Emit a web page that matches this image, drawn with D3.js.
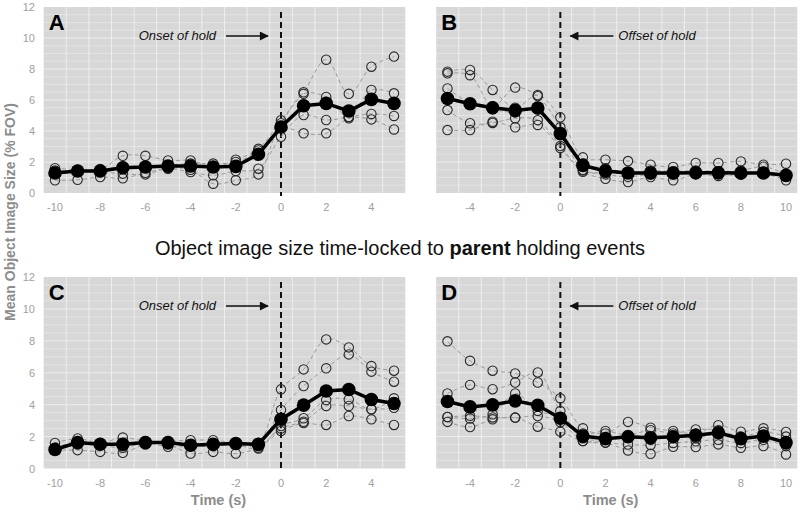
<!DOCTYPE html>
<html>
<head>
<meta charset="utf-8">
<script src="https://cdn.jsdelivr.net/npm/d3@7"></script>
<style>
  body { margin: 0; background: #fff; }
  text { font-family: Arial, "Liberation Sans", sans-serif; }
</style>
</head>
<body>
<div id="chart"></div>
<script>
const width = 800;
const height = 514;

// time points
const onsetTimes = [-10, -9, -8, -7, -6, -5, -4, -3, -2, -1, 0, 1, 2, 3, 4, 5];
const offsetTimes = [-5, -4, -3, -2, -1, 0, 1, 2, 3, 4, 5, 6, 7, 8, 9, 10];
const onsetTicks = [-10, -8, -6, -4, -2, 0, 2, 4];
const offsetTicks = [-4, -2, 0, 2, 4, 6, 8, 10];
const yTicks = [0, 2, 4, 6, 8, 10, 12];

// panel A: child onset
const meanA = [1.29, 1.42, 1.42, 1.63, 1.68, 1.74, 1.74, 1.68, 1.72, 2.5, 4.26, 5.63, 5.78, 5.29, 6.04, 5.78];
const subjectsA = [
    [1.6, 1.5, 1.5, 2.4, 2.4, 2.1, 2.1, 1.7, 2.15, 2.85, 4.7, 6.5, 8.6, 6.4, 8.15, 8.8],
    [1.45, 1.45, 1.55, 1.7, 1.75, 1.8, 1.9, 1.9, 2.0, 2.75, 4.5, 6.4, 6.2, 4.9, 6.65, 6.43],
    [1.3, 1.4, 1.35, 1.25, 1.2, 1.57, 1.35, 1.14, 1.42, 1.57, 3.63, 5.03, 4.71, 4.9, 5.1, 4.97],
    [0.82, 0.85, 1.03, 0.95, 1.3, 1.6, 1.5, 0.6, 0.82, 1.2, 4.2, 3.85, 3.85, 4.82, 4.75, 4.1]
];

// panel B: child offset
const meanB = [6.1, 5.76, 5.5, 5.33, 5.48, 3.83, 1.78, 1.42, 1.29, 1.29, 1.29, 1.31, 1.31, 1.29, 1.29, 1.14];
const subjectsB = [
    [7.83, 7.94, 6.65, 5.5, 6.32, 4.88, 2.3, 2.15, 2.06, 1.83, 1.68, 1.94, 1.94, 2.04, 1.83, 1.89],
    [7.72, 7.6, 5.6, 6.8, 6.25, 4.24, 1.9, 1.6, 1.35, 1.45, 1.4, 1.45, 1.4, 1.45, 1.7, 1.2],
    [6.75, 5.8, 5.4, 5.2, 5.4, 3.8, 1.5, 1.2, 1.05, 1.2, 1.2, 1.25, 1.2, 1.2, 1.3, 1.05],
    [5.35, 4.5, 4.52, 4.82, 4.7, 3.03, 1.45, 1.3, 1.25, 1.3, 1.3, 1.3, 1.25, 1.3, 1.35, 1.1],
    [4.06, 4.06, 4.6, 4.24, 4.39, 2.9, 1.37, 0.92, 0.71, 1.03, 0.82, 1.2, 1.1, 1.2, 1.25, 0.82]
];

// panel C: parent onset
const meanC = [1.19, 1.63, 1.52, 1.52, 1.63, 1.63, 1.46, 1.52, 1.57, 1.52, 3.09, 3.97, 4.86, 4.95, 4.32, 4.07];
const subjectsC = [
    [1.6, 1.88, 1.6, 1.94, 1.7, 1.7, 1.77, 1.77, 1.6, 1.6, 4.96, 6.21, 8.09, 7.59, 6.42, 6.13],
    [1.3, 1.7, 1.5, 1.6, 1.65, 1.6, 1.5, 1.55, 1.6, 1.5, 3.67, 5.17, 6.28, 7.15, 6.07, 5.44],
    [1.15, 1.6, 1.5, 1.4, 1.6, 1.36, 1.4, 1.5, 1.5, 1.25, 2.66, 3.15, 4.29, 4.33, 3.71, 4.4],
    [1.15, 1.15, 1.04, 0.98, 1.5, 1.5, 0.94, 1.04, 0.94, 1.3, 2.35, 2.93, 3.92, 3.92, 3.71, 3.8],
    [1.3, 1.5, 1.45, 1.3, 1.6, 1.6, 1.4, 1.4, 1.5, 1.4, 2.5, 2.85, 2.73, 3.29, 3.08, 2.73]
];

// panel D: parent offset
const meanD = [4.2, 3.86, 3.99, 4.24, 3.96, 3.15, 2.03, 1.87, 1.99, 1.93, 1.99, 2.08, 2.24, 1.87, 2.03, 1.62];
const subjectsD = [
    [7.97, 6.75, 6.13, 5.96, 5.39, 4.4, 2.52, 2.2, 2.92, 2.56, 2.35, 2.2, 2.71, 2.31, 2.52, 2.29],
    [4.7, 5.24, 4.97, 5.39, 6.02, 3.6, 2.2, 2.35, 2.1, 2.4, 2.2, 2.45, 2.4, 2.0, 2.3, 2.0],
    [3.23, 3.13, 3.4, 4.7, 3.61, 3.19, 1.9, 1.8, 2.0, 1.8, 2.0, 1.9, 2.2, 1.9, 2.0, 1.7],
    [3.23, 3.3, 3.2, 3.19, 3.29, 2.9, 1.72, 1.62, 1.5, 1.47, 1.6, 1.7, 1.8, 1.6, 1.8, 1.4],
    [2.92, 2.6, 3.08, 3.19, 2.62, 2.31, 1.72, 1.62, 1.13, 0.92, 1.36, 1.34, 1.51, 1.3, 1.41, 0.88]
];

const panels = [
    { label: "A", times: onsetTimes, ticks: onsetTicks, mean: meanA, subjects: subjectsA, note: "Onset of hold", left: true, top: true },
    { label: "B", times: offsetTimes, ticks: offsetTicks, mean: meanB, subjects: subjectsB, note: "Offset of hold", left: false, top: true },
    { label: "C", times: onsetTimes, ticks: onsetTicks, mean: meanC, subjects: subjectsC, note: "Onset of hold", left: true, top: false },
    { label: "D", times: offsetTimes, ticks: offsetTicks, mean: meanD, subjects: subjectsD, note: "Offset of hold", left: false, top: false }
];

const svg = d3.select("#chart")
    .append("svg")
    .attr("width", width)
    .attr("height", height);

svg.append("defs").append("marker")
    .attr("id", "arrow")
    .attr("viewBox", "0 0 10 10")
    .attr("refX", 9)
    .attr("refY", 5)
    .attr("markerWidth", 11)
    .attr("markerHeight", 9)
    .attr("markerUnits", "userSpaceOnUse")
    .attr("orient", "auto")
    .append("path")
    .attr("d", "M0,0L10,5L0,10Z")
    .attr("fill", "#111");

function drawPanel(p) {
    const x = p.left
        ? d3.scaleLinear().domain([-10.5, 5.5]).range([43.7, 405.3])
        : d3.scaleLinear().domain([-5.5, 10.5]).range([436.2, 797.3]);
    const y = p.top
        ? d3.scaleLinear().domain([0, 12]).range([193, 7])
        : d3.scaleLinear().domain([0, 12]).range([468.5, 277]);

    const g = svg.append("g");
    const [x0, x1] = x.range();
    const [y0, y1] = y.range();

    g.append("rect")
        .attr("x", x0).attr("y", y1)
        .attr("width", x1 - x0).attr("height", y0 - y1)
        .attr("fill", "#d7d7d7");

    // grid
    g.selectAll(".hgrid")
        .data(d3.range(0.5, 12, 0.5))
        .enter().append("line")
        .attr("x1", x0).attr("x2", x1)
        .attr("y1", d => y(d)).attr("y2", d => y(d))
        .attr("stroke", d => d % 2 === 0 ? "#f2f2f2" : "#e6e6e6")
        .attr("stroke-width", 0.8);
    g.selectAll(".vgrid")
        .data(p.times.slice(1).map(t => t - 0.5))
        .enter().append("line")
        .attr("x1", d => x(d)).attr("x2", d => x(d))
        .attr("y1", y1).attr("y2", y0)
        .attr("stroke", "#f0f0f0")
        .attr("stroke-width", 0.9);

    // ticks
    if (p.left) {
        g.selectAll(".ytick")
            .data(yTicks)
            .enter().append("text")
            .attr("x", 35)
            .attr("y", d => y(d) + 4)
            .attr("text-anchor", "end")
            .attr("font-size", 11)
            .attr("fill", "#a0a0a0")
            .text(d => d);
    }
    g.selectAll(".xtick")
        .data(p.ticks)
        .enter().append("text")
        .attr("x", d => x(d))
        .attr("y", y0 + 18)
        .attr("text-anchor", "middle")
        .attr("font-size", 11)
        .attr("fill", "#a0a0a0")
        .text(d => d);

    // dashed onset/offset line
    g.append("line")
        .attr("x1", x(0)).attr("x2", x(0))
        .attr("y1", y1 + 5).attr("y2", y0 + 3)
        .attr("stroke", "#111")
        .attr("stroke-width", 2)
        .attr("stroke-dasharray", "6,4");

    // subjects
    const curve = d3.line()
        .x((d, i) => x(p.times[i]))
        .y(d => y(d))
        .curve(d3.curveCatmullRom.alpha(0.5));

    p.subjects.forEach(s => {
        g.append("path")
            .attr("d", curve(s))
            .attr("fill", "none")
            .attr("stroke", "#9a9a9a")
            .attr("stroke-width", 1)
            .attr("stroke-dasharray", "4,3");
    });
    p.subjects.forEach(s => {
        g.selectAll(null)
            .data(s)
            .enter().append("circle")
            .attr("cx", (d, i) => x(p.times[i]))
            .attr("cy", d => y(d))
            .attr("r", 4.7)
            .attr("fill", "none")
            .attr("stroke", "#2a2a2a")
            .attr("stroke-width", 1.1);
    });

    // mean
    const line = d3.line()
        .x((d, i) => x(p.times[i]))
        .y(d => y(d));
    g.append("path")
        .attr("d", line(p.mean))
        .attr("fill", "none")
        .attr("stroke", "#000")
        .attr("stroke-width", 3.5);
    g.selectAll(".mean")
        .data(p.mean)
        .enter().append("circle")
        .attr("cx", (d, i) => x(p.times[i]))
        .attr("cy", d => y(d))
        .attr("r", 6.8)
        .attr("fill", "#000");

    // panel letter
    g.append("text")
        .attr("x", x0 + 5)
        .attr("y", y1 + 23)
        .attr("font-size", 22)
        .attr("font-weight", "bold")
        .attr("fill", "#000")
        .text(p.label);

    // annotation
    const ay = y1 + 29;
    if (p.left) {
        g.append("text")
            .attr("x", x(0) - 65)
            .attr("y", ay + 4)
            .attr("text-anchor", "end")
            .attr("font-size", 13)
            .attr("font-style", "italic")
            .attr("fill", "#111")
            .text(p.note);
        g.append("line")
            .attr("x1", x(0) - 55).attr("x2", x(0) - 13)
            .attr("y1", ay).attr("y2", ay)
            .attr("stroke", "#111").attr("stroke-width", 1.6)
            .attr("marker-end", "url(#arrow)");
    } else {
        g.append("text")
            .attr("x", x(0) + 58)
            .attr("y", ay + 4)
            .attr("font-size", 13)
            .attr("font-style", "italic")
            .attr("fill", "#111")
            .text(p.note);
        g.append("line")
            .attr("x1", x(0) + 53).attr("x2", x(0) + 10)
            .attr("y1", ay).attr("y2", ay)
            .attr("stroke", "#111").attr("stroke-width", 1.6)
            .attr("marker-end", "url(#arrow)");
    }

    if (!p.top) {
        g.append("text")
            .attr("x", (x0 + x1) / 2 - 6)
            .attr("y", 505)
            .attr("text-anchor", "middle")
            .attr("font-size", 14.5)
            .attr("font-weight", "bold")
            .attr("fill", "#8c8c8c")
            .text("Time (s)");
    }
}

panels.forEach(drawPanel);

// shared y label
svg.append("text")
    .attr("transform", "translate(15,212) rotate(-90)")
    .attr("text-anchor", "middle")
    .attr("font-size", 14)
    .attr("font-weight", "bold")
    .attr("fill", "#8c8c8c")
    .text("Mean Object Image Size (% FOV)");

// middle title
const title = svg.append("text")
    .attr("x", 400)
    .attr("y", 255)
    .attr("text-anchor", "middle")
    .attr("font-size", 20)
    .attr("fill", "#111");
title.append("tspan").text("Object image size time-locked to ");
title.append("tspan").attr("font-weight", "bold").text("parent");
title.append("tspan").text(" holding events");
</script>
</body>
</html>
